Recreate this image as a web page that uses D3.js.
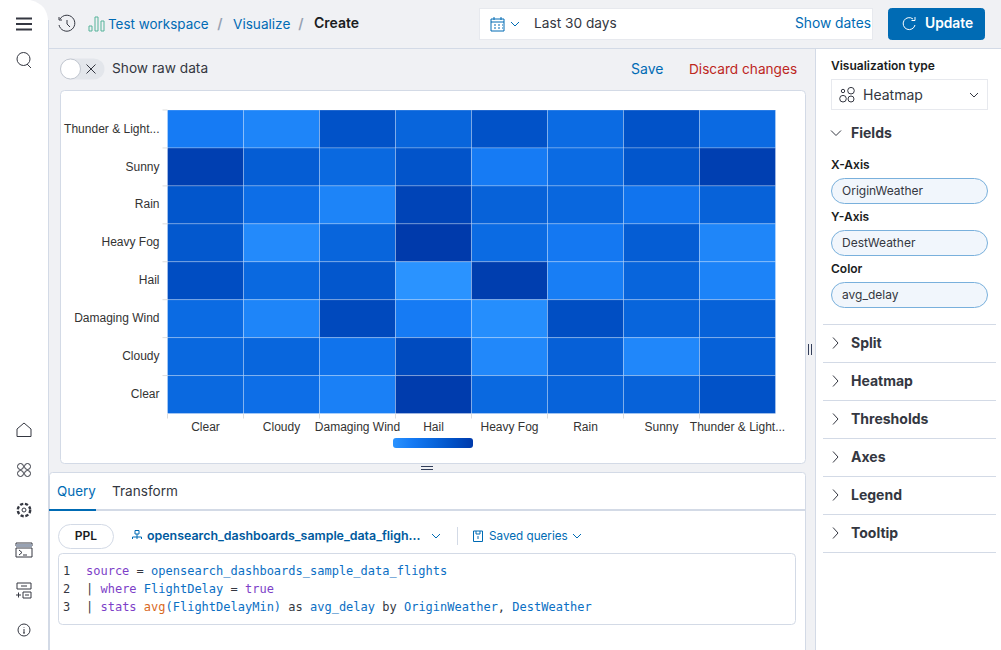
<!DOCTYPE html>
<html>
<head>
<meta charset="utf-8">
<title>Heatmap</title>
<script src="https://cdn.jsdelivr.net/npm/d3@7"></script>
<style>
html, body { margin: 0; padding: 0; background: #f0f1f4; overflow: hidden; }
svg { display: block; }
text { font-family: Inter, "Noto Sans", sans-serif; }
.chart text { font-family: "Liberation Sans", Arial, sans-serif; font-size: 12px; fill: #333; }
.code text { font-family: "DejaVu Sans Mono", monospace; font-size: 12px; white-space: pre; }
.icon { fill: none; stroke: #343741; stroke-width: 1; }
</style>
</head>
<body>
<script>
// origin weather across, destination weather going down
var originWeather = ["Clear", "Cloudy", "Damaging Wind", "Hail", "Heavy Fog", "Rain", "Sunny", "Thunder & Light..."];
var destWeather = ["Thunder & Light...", "Sunny", "Rain", "Heavy Fog", "Hail", "Damaging Wind", "Cloudy", "Clear"];

// avg_delay, one row per destWeather. no legend numbers in the picture so these are relative, read off the shade
var rowThunder = [22, 13, 70, 50, 70, 42, 70, 43];
var rowSunny = [91, 58, 45, 68, 22, 42, 66, 91];
var rowRain = [66, 38, 14, 86, 53, 47, 30, 53];
var rowHeavyFog = [64, 8, 50, 97, 42, 25, 58, 12];
var rowHail = [76, 45, 65, 0, 93, 20, 50, 15];
var rowDamagingWind = [42, 13, 80, 22, 5, 75, 50, 53];
var rowCloudy = [46, 48, 32, 78, 10, 55, 11, 54];
var rowClear = [45, 38, 18, 95, 45, 52, 53, 70];
var delayRows = [rowThunder, rowSunny, rowRain, rowHeavyFog, rowHail, rowDamagingWind, rowCloudy, rowClear];

var sections = ["Split", "Heatmap", "Thresholds", "Axes", "Legend", "Tooltip"];
var fieldNames = ["X-Axis", "Y-Axis", "Color"];
var fieldValues = ["OriginWeather", "DestWeather", "avg_delay"];

var w = 1001;
var h = 650;
var blue = "#006bb4";
var ink = "#343741";
var line = "#d3dae6";

var svg = d3.select("body").append("svg").attr("width", w).attr("height", h);

function box(x, y, bw, bh, fill, stroke, r) {
	return svg.append("rect").attr("x", x + .5).attr("y", y + .5).attr("width", bw - 1).attr("height", bh - 1)
		.attr("rx", r || 0).attr("fill", fill).attr("stroke", stroke || "none");
}
function label(x, y, str, size, color, weight, anchor) {
	return svg.append("text").attr("x", x).attr("y", y).attr("dy", ".35em")
		.attr("font-size", size).attr("fill", color).attr("font-weight", weight || 400)
		.attr("text-anchor", anchor || "start").text(str);
}
function icon(x, y, d, color) {
	var p = svg.append("path").attr("class", "icon").attr("transform", "translate(" + x + "," + y + ")").attr("d", d);
	if (color) p.style("stroke", color);
	return p;
}
function ring(cx, cy, r) {
	return svg.append("circle").attr("class", "icon").attr("cx", cx).attr("cy", cy).attr("r", r);
}
var chevDown = "M-4,-2 L0,2 L4,-2";
var chevRight = "M-2,-5.5 L3,0 L-2,5.5";

// ---- left nav
svg.append("path").attr("fill", "#fff").attr("d", "M0,0 H30 Q48,4 48,22 V650 H0 Z");
svg.append("line").attr("x1", 48.5).attr("x2", 48.5).attr("y1", 20).attr("y2", 650).attr("stroke", line);
svg.append("path").attr("stroke", ink).attr("stroke-width", 2).attr("d", "M16,18.5 H32 M16,24 H32 M16,29.5 H32");
ring(23.5, 59, 6.5);
icon(23, 59, "M4,5 L8,9");
icon(24, 430, "M-7,6.5 V-1 L0,-7 L7,-1 V6.5 Z");
ring(20.5, 466.5, 3); ring(27.5, 466.5, 3); ring(20.5, 473.5, 3); ring(27.5, 473.5, 3);
svg.append("circle").attr("class", "icon").attr("cx", 24).attr("cy", 510).attr("r", 6.2).attr("stroke-dasharray", "3.2 1.7").style("stroke-width", 2.4);
ring(24, 510, 2);
icon(24, 550, "M-8,-7 H8 V-4 H-8 Z M-8,-2 H8 V7 H-8 Z M-5,0 L-2,2.5 L-5,5 M-1,5 H3");
svg.append("rect").attr("x", 16).attr("y", 544).attr("width", 16).attr("height", 3).attr("fill", "#98a2b3");
icon(24, 590, "M-7,-7 H7 V-1 H-7 Z M-3,-4 H3 M-1,2 H7 V8 H-1 Z M1,5 H5 M-8,5 H-3 M-5.5,2.5 V7.5");
ring(24, 630, 6);
icon(24, 630, "M0,-1 V3 M-1,3 H1 M0,-3 V-2.4");

// ---- top bar
svg.append("line").attr("x1", 49).attr("x2", w).attr("y1", 48.5).attr("y2", 48.5).attr("stroke", line);
icon(67, 24, "M-7,-5 A8,8 0 1 1 -8,1 M-8,-7 V-4 H-5 M0,-4 V0 L3,3");
icon(89, 24, "M0,7 V2 H3 V7 Z M6,7 V-7 H9 V7 Z M12,7 V-3 H15 V7 Z", "#54b399");
label(108, 24, "Test workspace", 13.45, blue);
label(220, 24, "/", 14, "#98a2b3", 600, "middle");
label(233, 24, "Visualize", 13.6, blue);
label(301, 24, "/", 14, "#98a2b3", 600, "middle");
label(314, 23.5, "Create", 14, "#1a1c21", 600);

box(479, 8, 394, 32, "#fff", "#e7e9ee");
icon(497, 24, "M-6,-5 H7 V7 H-6 Z M-6,-2 H7 M-3,-7 V-4 M4,-7 V-4 M-3,1 H-1 M1,1 H3 M5,1 H6 M-3,4 H-1 M1,4 H3 M5,4 H6", blue);
icon(515, 24, chevDown, blue);
label(534, 23.5, "Last 30 days", 13.7, ink);
label(871, 23.5, "Show dates", 13.8, blue, 400, "end");
box(888, 8, 97, 32, blue, blue, 3);
icon(909, 24, "M4,-5 A6,6 0 1 0 6,1 M6,-7 V-3.5 H2.5", "#fff");
label(925, 23.5, "Update", 13.8, "#fff", 600);

// ---- toggle row
box(60, 58, 45, 22, "#e3e6eb", null, 11);
svg.append("circle").attr("cx", 70.5).attr("cy", 69).attr("r", 10).attr("fill", "#fff").attr("stroke", "#c2c7d0");
icon(91, 69, "M-4.5,-4.5 L4.5,4.5 M4.5,-4.5 L-4.5,4.5");
label(112, 68, "Show raw data", 13.7, ink);
label(631, 69, "Save", 14, blue);
label(689, 69, "Discard changes", 13.65, "#bd271e");

// ---- chart panel
box(60, 90, 746, 374, "#fff", line, 4);
var g = svg.append("g").attr("class", "chart");

var x = d3.scaleBand().domain(originWeather).range([167.5, 775.5]);
var y = d3.scaleBand().domain(destWeather).range([110, 413.5]);
var allDelays = d3.merge(delayRows);
var delayExtent = d3.extent(allDelays);
var delayStops = d3.quantize(d3.interpolate(delayExtent[0], delayExtent[1]), 5);
var color = d3.scaleLinear()
	.domain(delayStops)
	.range(["#2a93ff", "#1479f3", "#0866dd", "#0050c5", "#003aab"]);

var cells = [];
delayRows.forEach(function (row, i) {
	row.forEach(function (v, j) {
		cells.push({ origin: originWeather[j], dest: destWeather[i], delay: v });
	});
});

g.selectAll("rect.cell")
	.data(cells)
	.enter()
	.append("rect")
	.attr("class", "cell")
	.attr("x", function (d) { return x(d.origin); })
	.attr("y", function (d) { return y(d.dest); })
	.attr("width", x.bandwidth())
	.attr("height", y.bandwidth())
	.attr("fill", function (d) { return color(d.delay); })
	.attr("stroke", "#fff")
	.attr("stroke-opacity", .25)
	.attr("stroke-width", 1);

var xAxis = g.append("g").attr("transform", "translate(0,413.5)")
	.call(d3.axisBottom(x).tickSize(5).tickSizeOuter(0));
var yAxis = g.append("g").attr("transform", "translate(167.5,0)")
	.call(d3.axisLeft(y).tickSize(5).tickSizeOuter(0));
xAxis.select(".domain").remove();
yAxis.select(".domain").remove();
// ticks sit on the band edges, labels stay in the middle
xAxis.selectAll(".tick line").attr("stroke", "#ddd").attr("x1", -x.bandwidth() / 2).attr("x2", -x.bandwidth() / 2);
xAxis.selectAll(".tick text").attr("y", 7).attr("dy", ".85em");
yAxis.selectAll(".tick line").attr("stroke", "#ddd").attr("y1", -y.bandwidth() / 2).attr("y2", -y.bandwidth() / 2);
yAxis.selectAll(".tick text").attr("x", -8).attr("dy", ".3em");

// gradient bar under the x axis
var grad = svg.append("defs").append("linearGradient").attr("id", "legendGrad");
grad.selectAll("stop")
	.data(color.domain())
	.enter()
	.append("stop")
	.attr("offset", function (d) { return (d - delayExtent[0]) / (delayExtent[1] - delayExtent[0]); })
	.attr("stop-color", function (d) { return color(d); });
g.append("rect").attr("x", 393).attr("y", 438).attr("width", 80).attr("height", 10).attr("rx", 3).attr("fill", "url(#legendGrad)");

// resize handles
svg.append("path").attr("stroke", "#343f5a").attr("d", "M421,466.5 H433 M421,469.5 H433");
svg.append("path").attr("stroke", "#343f5a").attr("d", "M808.5,344 V355 M811.5,344 V355");

// ---- query panel
box(49, 472, 757, 190, "#fff", line, 3);
label(57, 491, "Query", 13.4, blue);
label(112, 491, "Transform", 13.6, ink);
svg.append("rect").attr("x", 49).attr("y", 509).attr("width", 757).attr("height", 2).attr("fill", line);
svg.append("rect").attr("x", 49).attr("y", 509).attr("width", 47).attr("height", 2).attr("fill", blue);

box(58, 524, 56, 25, "#fff", line, 12);
label(86, 536, "PPL", 12, "#1a1c21", 600, "middle");
icon(137, 536, "M-2,-5.5 H2 V-2 H-2 Z M0,-2 V1 M-4.5,1 H4.5 M-4.5,1 V3 M0,1 V3 M4.5,1 V3", blue);
label(147, 536, "opensearch_dashboards_sample_data_fligh...", 12.4, "#005a9e", 600);
icon(436, 536, chevDown, blue);
svg.append("line").attr("x1", 457.5).attr("x2", 457.5).attr("y1", 527).attr("y2", 545).attr("stroke", line);
icon(478, 536, "M-4.5,-5 H4.5 V5.5 H-4.5 Z M-2,-5 V-2 H2 V-5 M0,0 V3", blue);
label(489, 536, "Saved queries", 11.7, blue);
icon(577, 536, chevDown, blue);

box(58, 553, 738, 72, "#fff", line, 4);
var code = svg.append("g").attr("class", "code");
var purple = "#7d3fc8", teal = "#0b6fc4", dark = "#343741", orange = "#d9691e";
var codeLines = [
	[["source", purple], [" = ", dark], ["opensearch_dashboards_sample_data_flights", teal]],
	[["| ", dark], ["where", purple], [" ", dark], ["FlightDelay", teal], [" = ", dark], ["true", purple]],
	[["| ", dark], ["stats", purple], [" ", dark], ["avg", orange], ["(FlightDelayMin)", teal], [" as ", dark], ["avg_delay", teal], [" by ", dark], ["OriginWeather", teal], [", ", dark], ["DestWeather", teal]]
];
codeLines.forEach(function (parts, i) {
	var ly = 571 + i * 18;
	code.append("text").attr("x", 63).attr("y", ly).attr("dy", ".35em").attr("fill", dark).text(i + 1);
	var t = code.append("text").attr("x", 86).attr("y", ly).attr("dy", ".35em");
	parts.forEach(function (p) { t.append("tspan").attr("fill", p[1]).text(p[0]); });
});

// ---- right panel
svg.append("rect").attr("x", 815).attr("y", 49).attr("width", 186).attr("height", 601).attr("fill", "#fff");
svg.append("line").attr("x1", 815.5).attr("x2", 815.5).attr("y1", 49).attr("y2", 650).attr("stroke", line);
label(831, 66, "Visualization type", 12, "#1a1c21", 600);
box(831, 79, 157, 31, "#fff", "#e7e9ee");
ring(843, 91, 1.7); ring(851, 90.7, 3.3); ring(843, 98.7, 3.3); ring(851, 99, 3);
label(863, 95, "Heatmap", 14, ink);
icon(974, 95, chevDown);
icon(836, 133, "M-5,-2.5 L0,2.5 L5,-2.5");
label(851, 133, "Fields", 14, ink, 700);

fieldNames.forEach(function (name, i) {
	var fy = 165 + i * 52;
	label(831, fy, name, 12, "#1a1c21", 600);
	box(831, fy + 13, 157, 26, "#f1f6fc", "#79b0dc", 13);
	label(842, fy + 26, fieldValues[i], 12, ink);
});

svg.append("line").attr("x1", 823).attr("x2", 996).attr("y1", 324.5).attr("y2", 324.5).attr("stroke", line);
sections.forEach(function (name, i) {
	var sy = 343 + i * 38;
	icon(835, sy, chevRight);
	label(851, sy, name, 14, ink, 700);
	svg.append("line").attr("x1", 823).attr("x2", 996).attr("y1", sy + 19.5).attr("y2", sy + 19.5).attr("stroke", line);
});
</script>
</body>
</html>
